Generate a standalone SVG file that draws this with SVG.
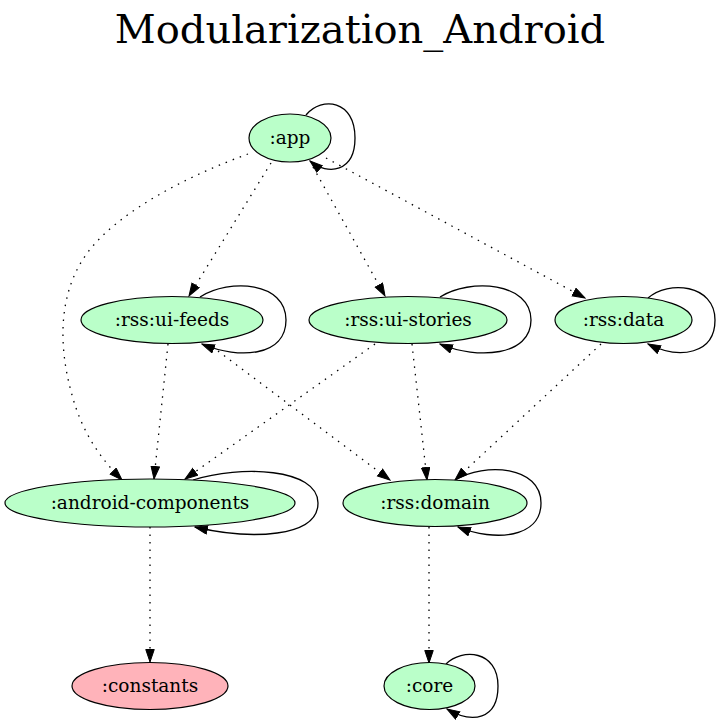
<svg xmlns="http://www.w3.org/2000/svg" width="721" height="726" viewBox="0 0 721 726">
<defs>
<marker id="ah" markerWidth="14" markerHeight="11" refX="13" refY="4.75" orient="auto" markerUnits="userSpaceOnUse"><path d="M0.5,0.5 L13,4.75 L0.5,9 z" fill="#000" stroke="#000" stroke-width="1"/></marker>
<style>
.n ellipse{stroke:#000;stroke-width:1.2}
.g ellipse{fill:#baffc9}
.p ellipse{fill:#ffb3ba}
.n text{font-family:"DejaVu Serif",serif;font-size:18.5px;text-anchor:middle;fill:#000}
.e path{fill:none;stroke:#000;stroke-width:1.3;marker-end:url(#ah)}
.e .d{stroke-dasharray:1.5 6}
.title{font-family:"DejaVu Serif",serif;font-size:40px;text-anchor:middle;fill:#000}
</style>
</defs>
<rect width="721" height="726" fill="#fff"/>
<text class="title" x="360" y="43">Modularization_Android</text>
<g id="edges" class="e">
<path d="M306,115 C322,96 355,100 355,138 C355,172 328,176 310,161"/>
<path d="M200,297 C230,278 286,282 286,320 C286,356 240,360 202,344"/>
<path d="M440,297 C470,278 531,282 531,320 C531,356 478,360 440,344"/>
<path d="M648,298 C668,280 715,284 715,320 C715,354 680,360 648,344"/>
<path d="M193,480 C240,465 318,468 318,503 C318,538 250,540 195,527"/>
<path d="M455,480 C485,462 541,466 541,503 C541,538 495,542 458,527"/>
<path d="M446,664 C462,648 498,650 498,686 C498,720 472,724 447,709"/>
<path class="d" d="M248,154 C190,175 120,210 88,252 C58,292 58,345 72,395 C82,432 100,458 122,480"/>
<path class="d" d="M271,163 L189,296"/>
<path class="d" d="M313,167 L385,296"/>
<path class="d" d="M326,158 L585,298"/>
<path class="d" d="M168,344 L154,479"/>
<path class="d" d="M218,351 L390,480"/>
<path class="d" d="M375,344 L185,479"/>
<path class="d" d="M412,344 L427,480"/>
<path class="d" d="M601,344 L455,480"/>
<path class="d" d="M150,527 L150,662"/>
<path class="d" d="M429,527 L429,663"/>
</g>
<g id="app" class="n g"><ellipse cx="290" cy="138" rx="41" ry="24"/><text x="290" y="144">:app</text></g>
<g id="rss-ui-feeds" class="n g"><ellipse cx="172" cy="320" rx="91" ry="23.5"/><text x="172" y="326">:rss:ui-feeds</text></g>
<g id="rss-ui-stories" class="n g"><ellipse cx="408" cy="320" rx="99" ry="23.5"/><text x="408" y="326">:rss:ui-stories</text></g>
<g id="rss-data" class="n g"><ellipse cx="623.5" cy="320" rx="68.5" ry="23.5"/><text x="623.5" y="326">:rss:data</text></g>
<g id="android-components" class="n g"><ellipse cx="150" cy="503" rx="145" ry="24"/><text x="150" y="509">:android-components</text></g>
<g id="rss-domain" class="n g"><ellipse cx="435" cy="503" rx="92" ry="23.5"/><text x="435" y="509">:rss:domain</text></g>
<g id="constants" class="n p"><ellipse cx="150" cy="686" rx="78" ry="23.5"/><text x="150" y="692">:constants</text></g>
<g id="core" class="n g"><ellipse cx="429.5" cy="686" rx="45.5" ry="23.5"/><text x="429.5" y="692">:core</text></g>
</svg>
